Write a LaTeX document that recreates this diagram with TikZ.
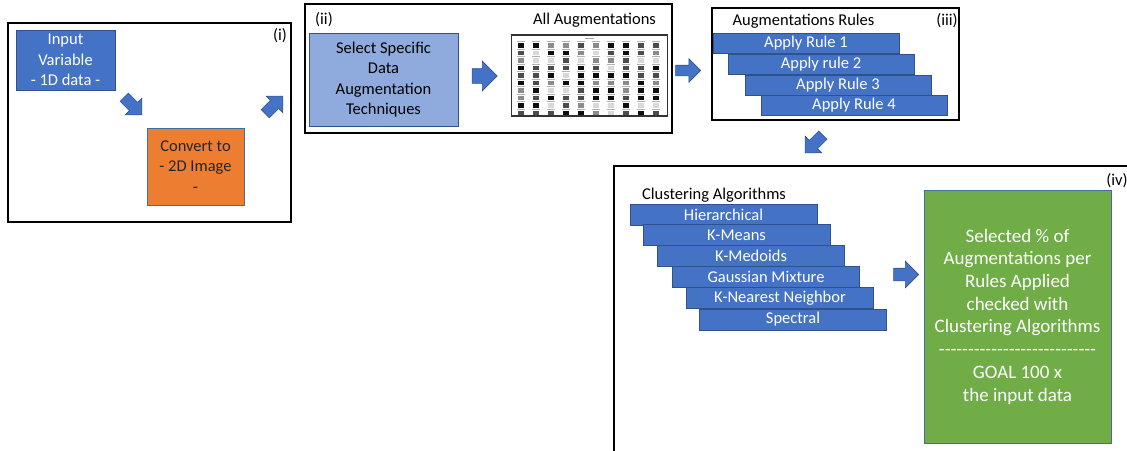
\documentclass[tikz,border=0pt]{standalone}
\usepackage{fontspec}
\setmainfont{Carlito}
\usetikzlibrary{shapes.arrows}
\definecolor{boxblue}{HTML}{4472C4}
\definecolor{edgeblue}{HTML}{2F528F}
\definecolor{paleblue}{HTML}{8FAADC}
\definecolor{convorange}{HTML}{ED7D31}
\definecolor{goalgreen}{HTML}{70AD47}
\definecolor{softedge}{HTML}{41719C}
\newcommand{\dashrow}{\foreach \k in {1,...,27}{\mbox{-}}}

\begin{document}
\begin{tikzpicture}[x=1pt, y=-1pt,
  frame/.style={draw=black, line width=1.3pt, inner sep=0pt},
  label/.style={inner sep=0pt, font=\fontsize{16.5}{20.5}\selectfont},
  bluebox/.style={draw=edgeblue, fill=boxblue, text=white, align=center, inner sep=0pt, line width=0.8pt, font=\fontsize{16.5}{20.5}\selectfont},
  rulebar/.style={bluebox, minimum width=186pt, minimum height=20pt},
  algobar/.style={bluebox, minimum width=187pt, minimum height=21pt},
  blockarrow/.style={single arrow, draw=edgeblue, fill=boxblue, minimum height=25pt, inner xsep=0pt, inner ysep=5.5pt, single arrow head extend=6pt, line width=0.6pt}
]
\useasboundingbox (0,0) rectangle (1127,450);

% stage (i)
\node[frame, minimum width=283pt, minimum height=199pt] (stagei) at (149.5,122.5) {};
\node[label] (tagi) at (280,36) {(i)};
\node[bluebox, minimum width=99pt, minimum height=60pt] (input) at (65.5,60) {Input\\Variable\\- 1D data -};
\node[bluebox, fill=convorange, draw=softedge, text=black!85, minimum width=97pt, minimum height=77pt] (convert) at (195.5,166.5) {Convert to\\ - 2D Image\\ -};
\node[blockarrow, rotate=-45] (arrowa) at (131,104) {};
\node[blockarrow, rotate=45] (arrowb) at (272,107) {};

% stage (ii)
\node[frame, minimum width=367pt, minimum height=129pt] (stageii) at (488.5,68.5) {};
\node[label] (tagii) at (324,20) {(ii)};
\node[bluebox, fill=paleblue, text=black, minimum width=149pt, minimum height=93pt] (select) at (383.5,79.5) {Select Specific\\Data\\Augmentation\\Techniques};
\node[blockarrow, inner ysep=7pt, single arrow head extend=7.5pt] (arrowc) at (481,76) {};
\node[label] (alltitle) at (594.5,20) {All Augmentations};
\node[draw=black!80, line width=1.6pt, minimum width=156pt, minimum height=81pt, inner sep=0pt] (augimg) at (589.5,75.5) {};
\draw[black!35, line width=0.5pt] (585,38.5) -- (594,38.5);
\pgfmathsetseed{7}
\foreach \c in {0,...,9}{
  \foreach \r in {0,...,9}{
    \pgfmathrandominteger{\k}{0}{3}
    \pgfmathsetmacro{\shd}{{15,45,70,95}[\k]}
    \draw[black!30, line width=0.5pt] (517+15*\c,41.3+7.5*\r) -- (525+15*\c,41.3+7.5*\r);
    \fill[black!\shd] (518.3+15*\c,43+7.5*\r) rectangle (523.7+15*\c,47.8+7.5*\r);
  }
}
\node[blockarrow, inner ysep=5pt, single arrow head extend=6.5pt] (arrowd) at (685.5,70.5) {};

% stage (iii)
\node[frame, minimum width=247pt, minimum height=112pt] (stageiii) at (835.5,64) {};
\node[label] (rulestitle) at (803.5,21) {Augmentations Rules};
\node[label] (tagiii) at (947,21) {(iii)};
\node[rulebar] (rulea) at (806,43) {Apply Rule 1};
\node[rulebar] (ruleb) at (821,64) {Apply rule 2};
\node[rulebar] (rulec) at (838,85) {Apply Rule 3};
\node[rulebar] (ruled) at (854,105) {Apply Rule 4};
\node[blockarrow, rotate=-135] (arrowe) at (816,142) {};

% stage (iv)
\coordinate (framecorner) at (614,166);
\draw[frame] (1135,166) -- (framecorner) -- (614,455);
\node[label] (tagiv) at (1117,181) {(iv)};
\node[label] (algotitle) at (714,195) {Clustering Algorithms};
\node[algobar] (hier) at (723.5,214.5) {Hierarchical};
\node[algobar] (kmeans) at (736.5,235) {K-Means};
\node[algobar] (kmedoids) at (751,255.5) {K-Medoids};
\node[algobar] (gauss) at (766,276.5) {Gaussian Mixture};
\node[algobar] (knn) at (780,298) {K-Nearest Neighbor};
\node[algobar] (spectral) at (793,319.5) {Spectral};
\node[blockarrow, inner ysep=6pt, single arrow head extend=7pt] (arrowf) at (903,274.5) {};
\node[bluebox, fill=goalgreen, draw=softedge, minimum width=187pt, minimum height=253pt, font=\fontsize{19}{22.7}\selectfont] (goal) at (1017.5,316.5) {Selected \% of\\Augmentations per\\Rules Applied\\checked with\\Clustering Algorithms\\\dashrow\\GOAL 100 x\\the input data};
\end{tikzpicture}
\end{document}
